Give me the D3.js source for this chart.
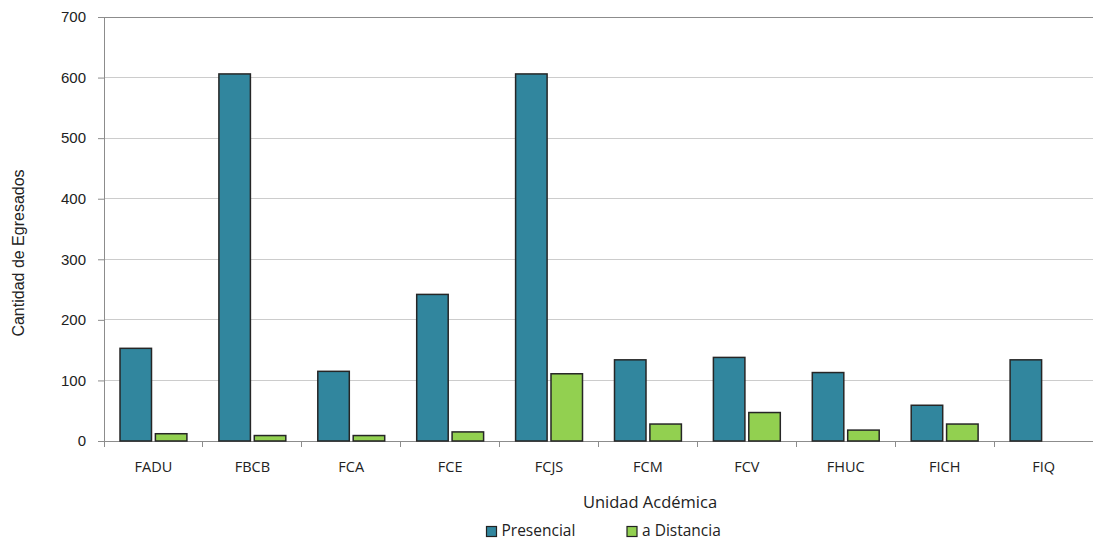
<!DOCTYPE html>
<html><head><meta charset="utf-8">
<script src="https://cdn.jsdelivr.net/npm/d3@7"></script>
<style>body{margin:0;background:#fff}svg{display:block}text{font-family:"Open Sans","Liberation Sans",sans-serif;fill:#222}</style>
</head><body><svg id="c" width="1093" height="542"></svg>
<script>
const categories = ["FADU","FBCB","FCA","FCE","FCJS","FCM","FCV","FHUC","FICH","FIQ"];
const presencial = [153,606,115,242,606,134,138,113,59,134];
const distancia = [12,9,9,15,111,28,47,18,28,0];
const seriesNames = ["Presencial","a Distancia"];
const yTicks = [0,100,200,300,400,500,600,700];
const colors = ["#31869e","#92d050"];

const svg = d3.select("#c");
const L = 104, R = 1093, T = 17, B = 441;
const x = d3.scaleBand().domain(categories).range([L, R]);
const y = d3.scaleLinear().domain([0,700]).range([B, T]);
const inner = d3.scaleBand().domain([0,1]).range([16, x.bandwidth()-16]).paddingInner(0.11);

// grid
svg.append("g").selectAll("line").data(yTicks.filter(d=>d>0)).join("line")
  .attr("x1", L).attr("x2", R).attr("y1", d=>y(d)).attr("y2", d=>y(d))
  .attr("stroke", d=>d===700?"#8c8c8c":"#cccccc").attr("stroke-width",1).attr("shape-rendering","crispEdges");

// y axis
const ya = svg.append("g").attr("transform",`translate(${L},0)`)
  .call(d3.axisLeft(y).tickValues(yTicks).tickSize(6).tickPadding(12));
ya.select(".domain").attr("stroke","#8c8c8c");
ya.selectAll(".tick line").attr("stroke","#8c8c8c");
ya.selectAll("text").attr("font-size",15).attr("fill","#222").style("font-family","'Liberation Sans',Arial,sans-serif");

// x axis
const xa = svg.append("g").attr("transform",`translate(0,${B})`)
  .call(d3.axisBottom(x).tickSize(0).tickPadding(21));
xa.select(".domain").attr("stroke","#8c8c8c");
xa.selectAll("text").attr("font-size",14.5).attr("fill","#222");
svg.append("g").selectAll("line").data(d3.range(categories.length+1)).join("line")
  .attr("x1", i=>L+i*x.step()).attr("x2", i=>L+i*x.step())
  .attr("y1", B).attr("y2", B+6).attr("stroke","#8c8c8c").attr("shape-rendering","crispEdges");

// bars
const data = [presencial, distancia];
data.forEach((vals, s) => {
  svg.append("g").selectAll("rect").data(categories).join("rect")
    .attr("x", (c)=>x(c)+inner(s)).attr("width", inner.bandwidth())
    .attr("y", (c,i)=>y(vals[i])).attr("height", (c,i)=>B-y(vals[i]))
    .attr("fill", colors[s]).attr("stroke","#262626").attr("stroke-width",1.5)
    .style("display",(c,i)=>vals[i]>0?null:"none");
});

// titles
svg.append("text").attr("x",650).attr("y",508).attr("text-anchor","middle").attr("font-size",16.5).text("Unidad Acdémica");
svg.append("text").attr("transform",`translate(24,${(T+B)/2+24}) rotate(-90)`).attr("text-anchor","middle")
  .attr("font-size",16).style("font-family","'Liberation Sans',Arial,sans-serif").text("Cantidad de Egresados");

// legend
const lx = [486.5, 627];
seriesNames.forEach((n,i)=>{
  svg.append("rect").attr("x",lx[i]).attr("y",526.5).attr("width",10).attr("height",10)
    .attr("fill",colors[i]).attr("stroke","#222").attr("stroke-width",1.2);
  svg.append("text").attr("x",lx[i]+15).attr("y",536).attr("font-size",15.5).text(n);
});
</script></body></html>
